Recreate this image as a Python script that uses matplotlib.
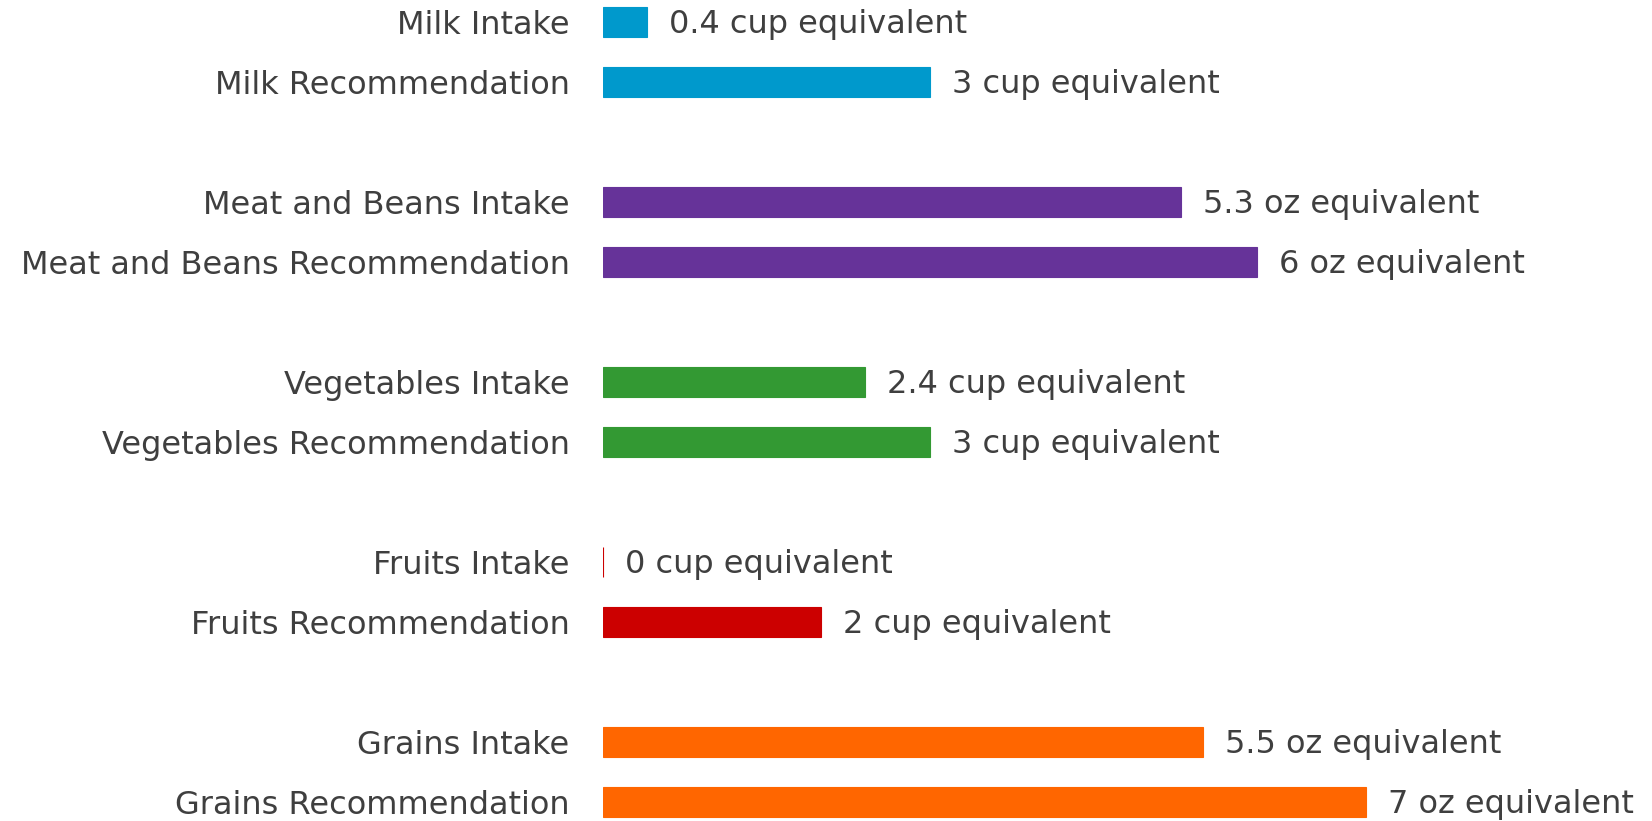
import numpy as np
import matplotlib.pyplot as plt

# food groups, top to bottom
groups = ['Milk', 'Meat and Beans', 'Vegetables', 'Fruits', 'Grains']
intake = [0.4, 5.3, 2.4, 0, 5.5]
recommendation = [3, 6, 3, 2, 7]
units = ['cup', 'oz', 'cup', 'cup', 'oz']
colors = ['#0099CC', '#663399', '#339933', '#CC0000', '#FF6600']

text_col = '#3f3f3f'
fsize = 23
plt.rcParams.update({'font.family': 'DejaVu Sans', 'font.size': fsize})

fig = plt.figure(figsize=(16.52, 8.21), dpi=100)
ax = fig.add_axes([603 / 1652, 0, 1 - 603 / 1652, 1])

ypos, vals, labels, cols, texts = [], [], [], [], []
for i, g in enumerate(groups):
    for j, (kind, v) in enumerate([('Intake', intake[i]), ('Recommendation', recommendation[i])]):
        ypos.append(3 * i + j)
        vals.append(v)
        labels.append(g + ' ' + kind)
        cols.append(colors[i])
        texts.append('{} {} equivalent'.format(v, units[i]))

bars = ax.barh(ypos, vals, height=0.5, color=cols, edgecolor=cols, linewidth=0.8)

for rect, t in zip(bars, texts):
    ax.annotate(t, xy=(rect.get_width(), rect.get_y() + rect.get_height() / 2),
                xytext=(16, -2), textcoords='offset points',
                ha='left', va='center', color=text_col, fontsize=fsize)

ax.set_yticks(ypos)
ax.set_yticklabels(labels, color=text_col, fontsize=fsize, va='center_baseline')
ax.tick_params(axis='y', length=0, pad=24)
ax.set_xticks([])
ax.set_xlim(0, (1652 - 603) / 109)
ax.set_ylim(13.317, -0.367)
for s in ax.spines.values():
    s.set_visible(False)

fig.savefig('out.png', dpi=100)
